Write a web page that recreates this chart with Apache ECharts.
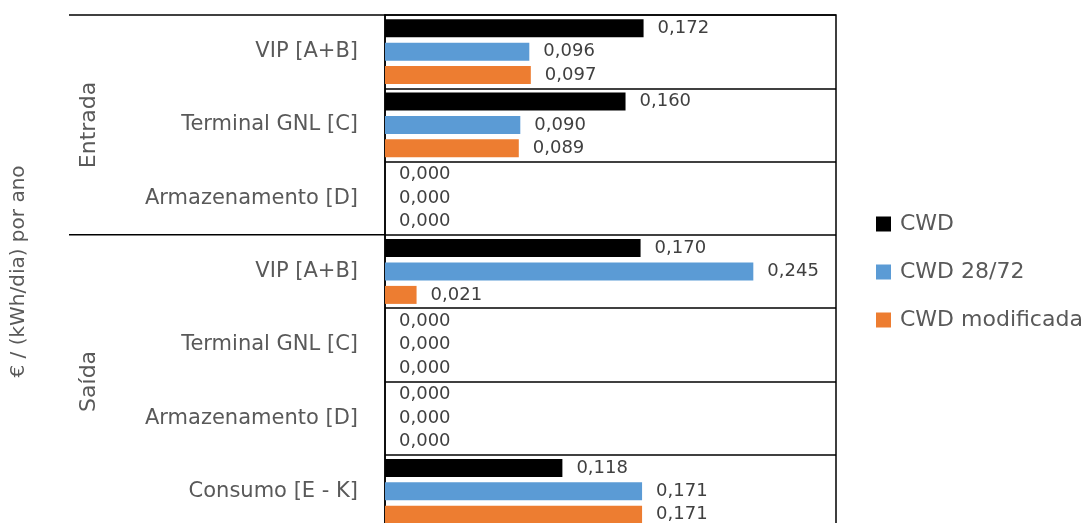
<!DOCTYPE html>
<html>
<head>
<meta charset="utf-8">
<script src="https://cdn.jsdelivr.net/npm/echarts@6/dist/echarts.min.js"></script>
<style>
  html, body { margin: 0; padding: 0; background: #fff; }
  #chart { width: 1090px; height: 523px; }
</style>
</head>
<body>
<div id="chart"></div>
<script>
// Capacity tariffs per entry/exit point, three cost-allocation methods
const categories = [
  'VIP [A+B]', 'Terminal GNL [C]', 'Armazenamento [D]',
  'VIP [A+B]', 'Terminal GNL [C]', 'Armazenamento [D]', 'Consumo [E - K]'
];
const groupNames = ['Entrada', 'Saída'];
const groupSizes = [3, 4];

const seriesNames = ['CWD', 'CWD 28/72', 'CWD modificada'];
const cwd         = [0.172, 0.160, 0.000, 0.170, 0.000, 0.000, 0.118];
const cwd2872     = [0.096, 0.090, 0.000, 0.245, 0.000, 0.000, 0.171];
const cwdMod      = [0.097, 0.089, 0.000, 0.021, 0.000, 0.000, 0.171];

const colors = ['#000000', '#5B9BD5', '#ED7D31'];
const FONT = 'DejaVu Sans';
const TEXT = '#595959';

const fmt = v => v.toFixed(3).replace('.', ',');

function barSeries(name, data, color) {
  return {
    name: name,
    type: 'bar',
    data: data,
    barWidth: 18,
    barGap: '30%',
    itemStyle: { color: color },
    label: {
      show: true,
      position: 'right',
      distance: 14,
      fontFamily: FONT,
      fontSize: 18,
      color: '#404040',
      formatter: p => fmt(p.value)
    }
  };
}

const chart = echarts.init(document.getElementById('chart'), null, { renderer: 'canvas' });

chart.setOption({
  animation: false,
  color: colors,
  grid: {
    left: 385, right: 254, top: 15, bottom: -5,
    show: true, borderColor: '#000', borderWidth: 1.5,
    containLabel: false,
    outerBoundsMode: 'none'
  },
  legend: {
    orient: 'vertical',
    left: 876,
    top: 213,
    padding: 0,
    itemWidth: 15,
    itemHeight: 15,
    itemGap: 26,
    icon: 'rect',
    data: seriesNames,
    textStyle: { fontFamily: FONT, fontSize: 22, color: TEXT, lineHeight: 22, padding: [0, 0, 0, 4] }
  },
  xAxis: {
    type: 'value',
    min: 0,
    max: 0.3,
    axisLabel: { show: false },
    axisLine: { show: false },
    axisTick: { show: false },
    splitLine: { show: false }
  },
  yAxis: {
    type: 'category',
    inverse: true,
    data: categories,
    name: '€ / (kWh/dia) por ano',
    nameLocation: 'middle',
    nameRotate: 90,
    nameGap: 356,
    nameTextStyle: { fontFamily: FONT, fontSize: 20, color: TEXT },
    axisLine: { show: true, lineStyle: { color: '#000', width: 1.5 } },
    axisTick: { show: false },
    axisLabel: { fontFamily: FONT, fontSize: 21, color: TEXT, margin: 27 },
    splitLine: { show: true, lineStyle: { color: '#000', width: 1.5 } }
  },
  series: [
    barSeries(seriesNames[0], cwd, colors[0]),
    barSeries(seriesNames[1], cwd2872, colors[1]),
    barSeries(seriesNames[2], cwdMod, colors[2])
  ]
});

// Group brackets (Entrada / Saída) to the left of the category labels,
// placed from the category axis scale.
const axisX = chart.convertToPixel({ xAxisIndex: 0 }, 0);
const c0 = chart.convertToPixel({ yAxisIndex: 0 }, 0);
const c1 = chart.convertToPixel({ yAxisIndex: 0 }, 1);
const band = c1 - c0;
const bandTop = i => chart.convertToPixel({ yAxisIndex: 0 }, i) - band / 2;

const graphics = [];
let start = 0;
const lineLeft = 69;
const boundaries = [bandTop(0)];
groupNames.forEach((g, k) => {
  const end = start + groupSizes[k];
  const yTop = bandTop(start);
  const yBottom = bandTop(end - 1) + band;
  boundaries.push(yBottom);
  graphics.push({
    type: 'text',
    x: 89,
    y: (yTop + yBottom) / 2,
    rotation: Math.PI / 2,
    style: {
      text: g,
      fill: TEXT,
      font: '22px "' + FONT + '"',
      align: 'center',
      verticalAlign: 'middle'
    }
  });
  start = end;
});
boundaries.forEach(y => {
  graphics.push({
    type: 'line',
    shape: { x1: lineLeft, y1: y, x2: axisX, y2: y },
    style: { stroke: '#000', lineWidth: 1.5 }
  });
});

chart.setOption({ graphic: graphics });
</script>
</body>
</html>
